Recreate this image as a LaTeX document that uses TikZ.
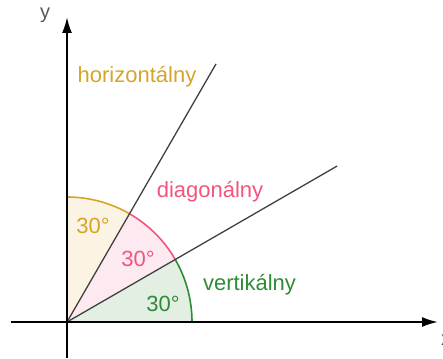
\documentclass[tikz,border=0pt]{standalone}
\usepackage{fontspec}
\setmainfont{Liberation Sans}
\usetikzlibrary{arrows.meta}
\definecolor{horcol}{HTML}{D6A528}
\definecolor{horfill}{HTML}{FBF3E4}
\definecolor{diacol}{HTML}{F2557F}
\definecolor{diafill}{HTML}{FDEAF0}
\definecolor{vercol}{HTML}{2E8B36}
\definecolor{verfill}{HTML}{E4EFE4}
\tikzset{
  axisline/.style={line width=2pt, -{Latex[length=16pt,width=10pt]}},
  ray/.style={line width=1.3pt, draw=black!75},
  arcline/.style={line width=1.6pt},
  lbl/.style={font=\fontsize{22}{26}\selectfont, inner sep=0pt},
  axislabel/.style={font=\fontsize{20}{24}\selectfont, text=black!65, inner sep=0pt}
}
\def\Rarc{125}
\begin{document}
\begin{tikzpicture}[x=1pt,y=1pt]
  \useasboundingbox (-67,-36) rectangle (376,322);
  \coordinate (O) at (0,0);
  \coordinate (Rhor) at (60:298);
  \coordinate (Rver) at (30:312);
  % sectors
  \fill[horfill] (O) -- (90:\Rarc) arc (90:60:\Rarc) -- cycle;
  \fill[diafill] (O) -- (60:\Rarc) arc (60:30:\Rarc) -- cycle;
  \fill[verfill] (O) -- (30:\Rarc) arc (30:0:\Rarc) -- cycle;
  % arcs
  \draw[arcline, horcol] (90:\Rarc) arc (90:60:\Rarc);
  \draw[arcline, diacol] (60:\Rarc) arc (60:30:\Rarc);
  \draw[arcline, vercol] (30:\Rarc) arc (30:0:\Rarc);
  % rays
  \draw[ray] (O) -- (Rhor);
  \draw[ray] (O) -- (Rver);
  % axes
  \coordinate (Xa) at (-56,0);
  \coordinate (Xb) at (371,0);
  \coordinate (Ya) at (0,-36);
  \coordinate (Yb) at (0,305);
  \draw[axisline] (Xa) -- (Xb);
  \draw[axisline] (Ya) -- (Yb);
  \node[axislabel] (ylab) at (-22,307) {y};
  \node[axislabel] (xlab) at (379,-18) {x};
  % labels
  \node[lbl, text=horcol] (hor) at (70,245) {horizontálny};
  \node[lbl, text=diacol] (dia) at (143,130) {diagonálny};
  \node[lbl, text=vercol] (ver) at (182.5,37) {vertikálny};
  \node[lbl, text=horcol] (ahor) at (26,96) {30°};
  \node[lbl, text=diacol] (adia) at (71,63) {30°};
  \node[lbl, text=vercol] (aver) at (96,18) {30°};
\end{tikzpicture}
\end{document}
